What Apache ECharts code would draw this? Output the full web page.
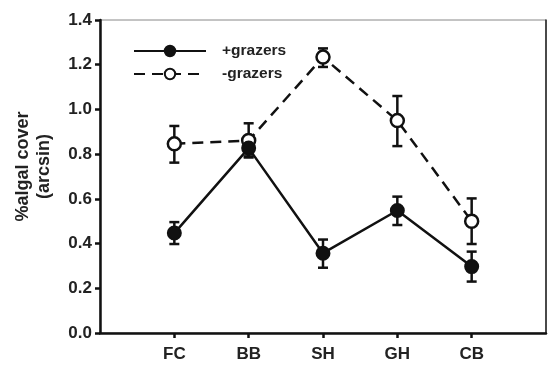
<!DOCTYPE html>
<html><head><meta charset="utf-8">
<script src="https://cdn.jsdelivr.net/npm/echarts@6/dist/echarts.min.js"></script>
<style>html,body{margin:0;padding:0;background:#fff}#c{width:548px;height:365px}</style>
</head><body><div id="c"></div>
<script>
const categories = ['', 'FC', 'BB', 'SH', 'GH', 'CB', ''];
const plusMean = [0.447, 0.827, 0.357, 0.548, 0.297];
const plusLow  = [0.398, 0.785, 0.292, 0.483, 0.230];
const plusHigh = [0.496, 0.868, 0.418, 0.610, 0.364];
const minusMean = [0.846, 0.861, 1.234, 0.950, 0.500];
const minusLow  = [0.762, 0.790, 1.190, 0.836, 0.398];
const minusHigh = [0.926, 0.938, 1.273, 1.060, 0.602];
const yTicks = [0, 0.2, 0.4, 0.6, 0.8, 1.0, 1.2, 1.4];

const F = 'Liberation Sans, Arial, sans-serif';
const idx = i => i + 1;
function errData(lo, hi) { return lo.map((l, i) => [idx(i), l, hi[i]]); }
function errRender(params, api) {
  const x = api.value(0);
  const p1 = api.coord([x, api.value(1)]);
  const p2 = api.coord([x, api.value(2)]);
  const w = 5;
  const st = { stroke: '#111', lineWidth: 2.5 };
  return { type: 'group', children: [
    { type: 'line', shape: { x1: p1[0], y1: p1[1], x2: p2[0], y2: p2[1] }, style: st },
    { type: 'line', shape: { x1: p1[0]-w, y1: p1[1], x2: p1[0]+w, y2: p1[1] }, style: st },
    { type: 'line', shape: { x1: p2[0]-w, y1: p2[1], x2: p2[0]+w, y2: p2[1] }, style: st }
  ]};
}
const chart = echarts.init(document.getElementById('c'));
chart.setOption({
  animation: false,
  grid: { left: 100, top: 20, right: 2, bottom: 32, show: true, borderColor: '#888', borderWidth: 1,
    containLabel: false, outerBoundsMode: 'none' },
  legend: {
    orient: 'vertical', left: 128, top: 38, itemWidth: 72, itemHeight: 13, itemGap: 7,
    textStyle: { fontFamily: F, fontWeight: 'bold', fontSize: 15.5, color: '#222', padding: [0, 0, 0, 11] },
    data: ['+grazers', '-grazers']
  },
  xAxis: {
    type: 'category', data: categories, boundaryGap: false,
    axisLine: { lineStyle: { color: '#111', width: 2.5 } },
    axisTick: { length: 5, lineStyle: { color: '#111', width: 2.5 },
      interval: (i) => i > 0 && i < categories.length - 1 },
    axisLabel: { fontFamily: F, fontWeight: 'bold', fontSize: 17, color: '#222', margin: 13,
      interval: 0 },
    splitLine: { show: false }
  },
  yAxis: [{
    type: 'value', min: 0, max: 1.4, interval: 0.2,
    name: '%algal cover\n(arcsin)', nameLocation: 'middle', nameGap: 45, nameRotate: 90,
    nameTextStyle: { fontFamily: F, fontWeight: 'bold', fontSize: 18, color: '#222', lineHeight: 21,
      padding: [0, 0, 0, 20] },
    axisLine: { show: true, lineStyle: { color: '#111', width: 2.5 } },
    axisTick: { show: true, length: 5, lineStyle: { color: '#111', width: 2.5 } },
    axisLabel: { fontFamily: F, fontWeight: 'bold', fontSize: 17, color: '#222', margin: 8,
      formatter: v => { const t = yTicks.find(k => Math.abs(k - v) < 1e-6); return (t === undefined ? v : t).toFixed(1); } },
    splitLine: { show: false }
  }, {
    type: 'value', min: 0, max: 1.4, position: 'right',
    axisLine: { show: true, lineStyle: { color: '#222', width: 1.5 } },
    axisTick: { show: false }, axisLabel: { show: false }, splitLine: { show: false }
  }],
  series: [
    { type: 'custom', renderItem: errRender, data: errData(minusLow, minusHigh), z: 3, silent: true },
    { type: 'custom', renderItem: errRender, data: errData(plusLow, plusHigh), z: 3, silent: true },
    { name: '-grazers', type: 'line', z: 4, symbol: 'circle', symbolSize: 13,
      data: minusMean.map((v, i) => [idx(i), v]),
      lineStyle: { color: '#111', width: 2.5, type: [11, 7] },
      itemStyle: { color: '#fff', borderColor: '#111', borderWidth: 2.5 } },
    { name: '+grazers', type: 'line', z: 5, symbol: 'circle', symbolSize: 13,
      data: plusMean.map((v, i) => [idx(i), v]),
      lineStyle: { color: '#111', width: 2.5 },
      itemStyle: { color: '#111', borderColor: '#111', borderWidth: 2 } }
  ]
});
</script></body></html>
